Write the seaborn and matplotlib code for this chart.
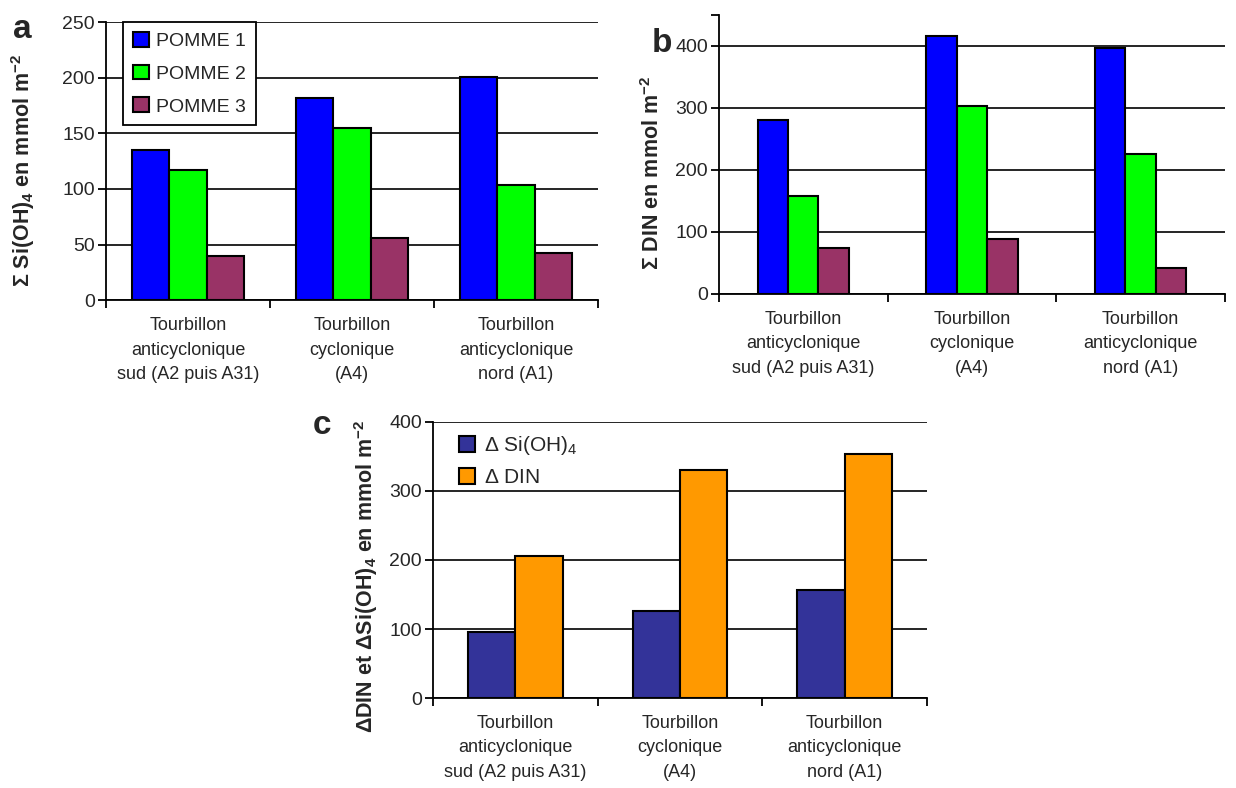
import numpy as np
import pandas as pd
import seaborn as sns
import matplotlib.pyplot as plt
from matplotlib import font_manager
from matplotlib.ticker import FixedLocator

# --- DATA ---
categories = [
    "Tourbillon\nanticyclonique\nsud (A2 puis A31)",
    "Tourbillon\ncyclonique\n(A4)",
    "Tourbillon\nanticyclonique\nnord (A1)",
]
pomme_names = ["POMME 1", "POMME 2", "POMME 3"]
si_pomme1 = [135, 182, 201]
si_pomme2 = [117, 155, 104]
si_pomme3 = [40, 56, 42]
din_pomme1 = [281, 416, 397]
din_pomme2 = [158, 303, 225]
din_pomme3 = [74, 88, 42]
delta_names = [r"$\Delta$ Si(OH)$_4$", r"$\Delta$ DIN"]
delta_si = [96, 126, 157]
delta_din = [206, 331, 354]

pomme_colors = ["#0000FF", "#00FF00", "#993366"]
delta_colors = ["#333399", "#FF9900"]

sns.set_theme(style="white")
plt.rcParams["font.family"] = ["Liberation Sans", "DejaVu Sans"]
plt.rcParams["mathtext.fontset"] = "custom"
plt.rcParams["mathtext.rm"] = "Liberation Sans"
plt.rcParams["mathtext.it"] = "Liberation Sans"
plt.rcParams["mathtext.bf"] = "Liberation Sans:bold"

available = {f.name for f in font_manager.fontManager.ttflist}
narrow = "Liberation Sans Narrow" if "Liberation Sans Narrow" in available else "Liberation Sans"


def long_df(series_names, series_values):
    rows = []
    for name, vals in zip(series_names, series_values):
        for cat, v in zip(categories, vals):
            rows.append({"cat": cat, "series": name, "val": v})
    return pd.DataFrame(rows)


def style_axis(ax, ymax, yticks, top_tick=None):
    ax.set_xlim(-0.5, 2.5)
    ax.set_ylim(0, ymax)
    ax.set_yticks(yticks)
    ax.set_axisbelow(True)
    ax.yaxis.grid(True, color="black", linewidth=1.2)
    ax.xaxis.grid(False)
    for side in ["top", "right"]:
        ax.spines[side].set_visible(False)
    for side in ["left", "bottom"]:
        ax.spines[side].set_color("black")
        ax.spines[side].set_linewidth(1.3)
    ax.set_xticks(range(3))
    ax.set_xticklabels(categories, fontfamily=narrow, fontsize=13, linespacing=1.6)
    ax.tick_params(axis="x", which="major", length=0, pad=12)
    ax.xaxis.set_minor_locator(FixedLocator([-0.5, 0.5, 1.5, 2.5]))
    ax.tick_params(axis="x", which="minor", length=6, width=1.3, color="black",
                   direction="out", bottom=True)
    ax.tick_params(axis="y", which="major", length=6, width=1.3, color="black",
                   direction="out", left=True, labelsize=14, pad=2)
    if top_tick is not None:
        ax.yaxis.set_minor_locator(FixedLocator([top_tick]))
        ax.tick_params(axis="y", which="minor", length=6, width=1.3, color="black",
                       direction="out", left=True)
    ax.set_xlabel("")


fig = plt.figure(figsize=(12.36, 7.88), dpi=100)
ax_a = fig.add_axes([0.0858, 0.619, 0.398, 0.353])
ax_b = fig.add_axes([0.5817, 0.627, 0.4094, 0.354])
ax_c = fig.add_axes([0.3503, 0.1142, 0.3997, 0.3503])

# Panel a
df_a = long_df(pomme_names, [si_pomme1, si_pomme2, si_pomme3])
sns.barplot(data=df_a, x="cat", y="val", hue="series", palette=pomme_colors,
            width=0.68, edgecolor="black", linewidth=1.5, saturation=1, ax=ax_a)
style_axis(ax_a, 250, [0, 50, 100, 150, 200, 250])
ax_a.set_ylabel(r"$\mathbf{\Sigma\ Si(OH)_4\ en\ mmol\ m^{-2}}$", fontsize=15.5)
ax_a.yaxis.set_label_coords(-0.140, 0.465)
leg = ax_a.legend(loc="upper left", bbox_to_anchor=(0.035, 1.0), borderaxespad=0,
                  fontsize=14, frameon=True, fancybox=False, edgecolor="black",
                  handlelength=0.8, handleheight=0.8, handletextpad=0.4,
                  labelspacing=0.75, borderpad=0.5)
leg.get_frame().set_linewidth(1.3)
leg.get_frame().set_alpha(1)

# Panel b
df_b = long_df(pomme_names, [din_pomme1, din_pomme2, din_pomme3])
sns.barplot(data=df_b, x="cat", y="val", hue="series", palette=pomme_colors,
            width=0.54, edgecolor="black", linewidth=1.5, saturation=1, ax=ax_b,
            legend=False)
style_axis(ax_b, 450, [0, 100, 200, 300, 400], top_tick=450)
ax_b.set_ylabel(r"$\mathbf{\Sigma\ DIN\ en\ mmol\ m^{-2}}$", fontsize=15.5)
ax_b.yaxis.set_label_coords(-0.109, 0.435)

# Panel c
df_c = long_df(delta_names, [delta_si, delta_din])
sns.barplot(data=df_c, x="cat", y="val", hue="series", palette=delta_colors,
            width=0.575, edgecolor="black", linewidth=1.5, saturation=1, ax=ax_c)
style_axis(ax_c, 400, [0, 100, 200, 300, 400])
ax_c.set_ylabel(r"$\mathbf{\Delta DIN\ et\ \Delta Si(OH)_4\ en\ mmol\ m^{-2}}$", fontsize=15.5)
ax_c.yaxis.set_label_coords(-0.107, 0.44)
ax_c.legend(loc="upper left", bbox_to_anchor=(0.035, 0.985), borderaxespad=0,
            fontsize=15, frameon=False, handlelength=0.8, handleheight=0.8,
            handletextpad=0.4, labelspacing=0.5)

# Panel letters
fig.text(22 / 1236, 1 - 30 / 788, "a", fontsize=24, fontweight="bold", ha="center", va="center")
fig.text(662 / 1236, 1 - 43 / 788, "b", fontsize=24, fontweight="bold", ha="center", va="center")
fig.text(322 / 1236, 1 - 425 / 788, "c", fontsize=24, fontweight="bold", ha="center", va="center")

fig.savefig("out.png", dpi=100)
